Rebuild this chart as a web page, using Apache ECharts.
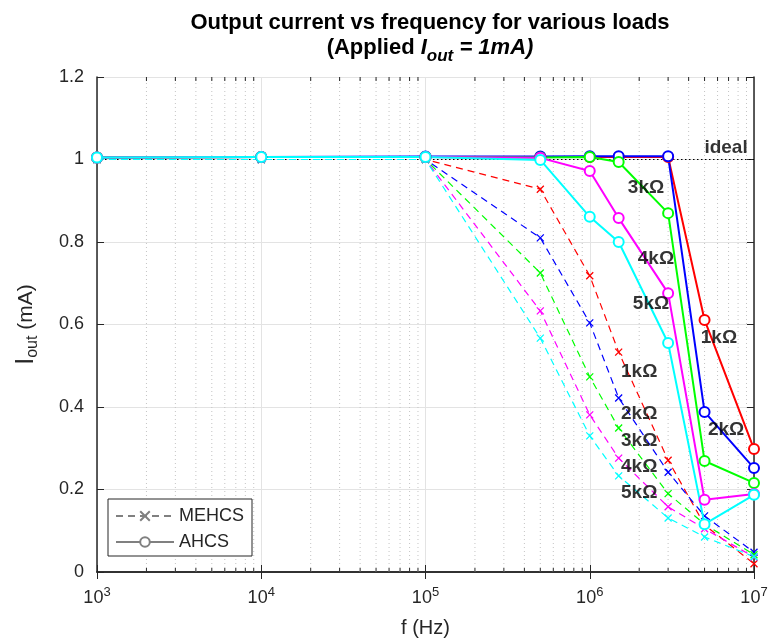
<!DOCTYPE html>
<html>
<head>
<meta charset="utf-8">
<script src="https://cdn.jsdelivr.net/npm/echarts@6/dist/echarts.min.js"></script>
<style>html,body{margin:0;padding:0;background:#fff;}#c{width:768px;height:641px;}</style>
</head>
<body>
<div id="c"></div>
<script>
// ---- data ----
const freq = [1e3, 1e4, 1e5, 5e5, 1e6, 1.5e6, 3e6, 5e6, 1e7];
const loads = ['1k\u03A9', '2k\u03A9', '3k\u03A9', '4k\u03A9', '5k\u03A9'];
const mehcs1k = [1.0, 1.0, 1.0, 0.928, 0.718, 0.533, 0.271, 0.114, 0.020];
const mehcs2k = [1.0, 1.0, 1.0, 0.810, 0.604, 0.422, 0.242, 0.136, 0.048];
const mehcs3k = [1.0, 1.0, 1.0, 0.725, 0.473, 0.349, 0.190, 0.116, 0.042];
const mehcs4k = [1.0, 1.0, 1.0, 0.633, 0.381, 0.276, 0.158, 0.105, 0.036];
const mehcs5k = [1.0, 1.0, 1.0, 0.567, 0.330, 0.233, 0.131, 0.085, 0.037];
const ahcs1k = [1.005, 1.006, 1.006, 1.006, 1.006, 1.006, 1.006, 0.611, 0.298];
const ahcs2k = [1.005, 1.006, 1.007, 1.007, 1.008, 1.008, 1.008, 0.388, 0.252];
const ahcs3k = [1.005, 1.006, 1.006, 1.005, 1.006, 0.994, 0.870, 0.269, 0.216];
const ahcs4k = [1.005, 1.006, 1.006, 1.004, 0.972, 0.858, 0.676, 0.175, 0.189];
const ahcs5k = [1.005, 1.006, 1.006, 0.999, 0.861, 0.800, 0.555, 0.116, 0.187];
const idealX = [1e3, 1e7];
const idealY = [1, 1];
const minorX = [];
[1e3, 1e4, 1e5, 1e6].forEach(d => { for (let k = 2; k <= 9; k++) minorX.push(k * d); });
// annotation labels [x, y, text]
const annotations = [
  [6.76e6, 1.028, 'ideal'],
  [2.2e6, 0.931, '3k\u03A9'],
  [2.53e6, 0.759, '4k\u03A9'],
  [2.36e6, 0.650, '5k\u03A9'],
  [6.12e6, 0.567, '1k\u03A9'],
  [6.76e6, 0.346, '2k\u03A9'],
  [2.0e6, 0.485, '1k\u03A9'],
  [2.0e6, 0.383, '2k\u03A9'],
  [2.0e6, 0.318, '3k\u03A9'],
  [2.0e6, 0.255, '4k\u03A9'],
  [2.0e6, 0.192, '5k\u03A9']
];
// ---- styles ----
const colors = ['#ff0000', '#0000ff', '#00ff00', '#ff00ff', '#00ffff'];
const crossPath = 'path://M0,0L10,10M10,0L0,10';
const FONT = 'Liberation Sans, Arial, sans-serif';
const AX = '#262626';

const mehcs = [mehcs1k, mehcs2k, mehcs3k, mehcs4k, mehcs5k];
const ahcs = [ahcs1k, ahcs2k, ahcs3k, ahcs4k, ahcs5k];
const zip = (xs, ys) => xs.map((x, i) => [x, ys[i]]);

const series = [];
series.push({
  type: 'custom', silent: true, z: 1,
  data: minorX.map(x => [x, 0]),
  encode: { x: 0, y: 1 },
  renderItem: (params, api) => {
    const x = api.value(0);
    const p0 = api.coord([x, 0]);
    const p1 = api.coord([x, 1.2]);
    return { type: 'group', children: [
      { type: 'line', shape: { x1: p0[0], y1: p0[1], x2: p1[0], y2: p1[1] }, style: { stroke: '#c4c4c4', lineWidth: 1, lineDash: [1, 3] } },
      { type: 'line', shape: { x1: p0[0], y1: p0[1], x2: p0[0], y2: p0[1] - 4 }, style: { stroke: AX, lineWidth: 1 } },
      { type: 'line', shape: { x1: p1[0], y1: p1[1], x2: p1[0], y2: p1[1] + 4 }, style: { stroke: AX, lineWidth: 1 } }
    ]};
  }
});
series.push({
  type: 'line', name: 'ideal', data: zip(idealX, idealY), symbol: 'none', silent: true, z: 2,
  lineStyle: { color: '#000', width: 1.2, type: [1.5, 2.5] }
});
mehcs.forEach((d, i) => series.push({
  type: 'line', name: 'MEHCS ' + loads[i], data: zip(freq, d), z: 3,
  symbol: crossPath, symbolSize: 7,
  lineStyle: { color: colors[i], width: 1.2, type: [7, 5] },
  itemStyle: { color: 'none', borderColor: colors[i], borderWidth: 1.3 }
}));
ahcs.forEach((d, i) => series.push({
  type: 'line', name: 'AHCS ' + loads[i], data: zip(freq, d), z: 4,
  symbol: 'emptyCircle', symbolSize: 10,
  lineStyle: { color: colors[i], width: 2 },
  itemStyle: { color: colors[i], borderColor: colors[i], borderWidth: 1.8 }
}));
series.push({
  type: 'line', name: 'MEHCS', data: [], symbol: crossPath, symbolSize: 7,
  lineStyle: { color: '#808080', width: 1.2, type: [7, 5] },
  itemStyle: { color: 'none', borderColor: '#808080', borderWidth: 1.2 }
});
series.push({
  type: 'line', name: 'AHCS', data: [], symbol: 'emptyCircle', symbolSize: 8,
  lineStyle: { color: '#808080', width: 1.8 },
  itemStyle: { color: '#808080', borderColor: '#808080', borderWidth: 1.5 }
});
series.push({
  type: 'scatter', name: 'labels', silent: true, z: 6,
  data: annotations.map(a => ({ value: [a[0], a[1]], name: a[2] })),
  symbolSize: 0,
  label: { show: true, position: 'inside', formatter: p => p.name, color: '#000', textBorderWidth: 0, fontSize: 19, fontWeight: 'bold', fontFamily: FONT }
});

const chart = echarts.init(document.getElementById('c'), null, { renderer: 'canvas' });
chart.setOption({
  animation: false,
  backgroundColor: '#fff',
  title: {
    text: 'Output current vs frequency for various loads\n{n|(Applied }{i|I}{s|out}{i| = 1mA)}',
    left: 425, top: 5, textAlign: 'center',
    textStyle: {
      fontFamily: FONT, fontSize: 22, fontWeight: 'bold', color: '#000', lineHeight: 25,
      rich: {
        n: { fontFamily: FONT, fontSize: 22, fontWeight: 'bold', color: '#000', lineHeight: 25 },
        i: { fontFamily: FONT, fontSize: 22, fontWeight: 'bold', fontStyle: 'italic', color: '#000', lineHeight: 25 },
        s: { fontFamily: FONT, fontSize: 17, fontWeight: 'bold', fontStyle: 'italic', color: '#000', padding: [18, 0, 0, 0], lineHeight: 25 }
      }
    }
  },
  legend: {
    data: ['MEHCS', 'AHCS'], orient: 'vertical', left: 108, top: 499,
    backgroundColor: '#fff', borderColor: AX, borderWidth: 1, padding: [8, 8, 5, 7],
    itemWidth: 58, itemHeight: 12, itemGap: 8,
    textStyle: { fontFamily: FONT, fontSize: 18, color: AX }
  },
  grid: { left: 97, right: 14, top: 77, bottom: 69, containLabel: false, outerBoundsMode: 'none' },
  xAxis: [{
    type: 'log', logBase: 10, min: 1e3, max: 1e7,
    name: 'f (Hz)', nameLocation: 'middle', nameGap: 46,
    nameTextStyle: { fontFamily: FONT, fontSize: 20, color: AX },
    axisLine: { show: true, lineStyle: { color: AX, width: 1.5 } },
    axisTick: { show: true, inside: true, length: 7, lineStyle: { color: AX, width: 1 } },
    minorTick: { show: false },
    splitLine: { show: true, lineStyle: { color: '#e3e3e3', width: 1 } },
    axisLabel: {
      margin: 14, color: AX, fontFamily: FONT, fontSize: 18,
      formatter: v => '10{s|' + Math.round(Math.log10(v)) + '}',
      rich: { s: { fontSize: 13, fontFamily: FONT, color: AX, padding: [0, 0, 12, 0] } }
    }
  }, {
    type: 'log', logBase: 10, min: 1e3, max: 1e7, position: 'top',
    axisLine: { show: true, lineStyle: { color: AX, width: 1.5 } },
    axisTick: { show: true, inside: true, length: 7, lineStyle: { color: AX, width: 1 } },
    axisLabel: { show: false }, splitLine: { show: false }
  }],
  yAxis: [{
    type: 'value', min: 0, max: 1.2, interval: 0.2,
    name: '{b|I}{s|out}{n| (mA)}', nameLocation: 'middle', nameGap: 56, nameRotate: 90,
    nameTextStyle: {
      rich: {
        b: { fontFamily: FONT, fontSize: 25, color: AX },
        s: { fontFamily: FONT, fontSize: 16, color: AX, padding: [13, 0, 0, 0] },
        n: { fontFamily: FONT, fontSize: 21, color: AX }
      }
    },
    axisLine: { show: true, lineStyle: { color: AX, width: 1.5 } },
    axisTick: { show: true, inside: true, length: 7, lineStyle: { color: AX, width: 1 } },
    splitLine: { show: true, lineStyle: { color: '#e3e3e3', width: 1 } },
    axisLabel: { margin: 13, color: AX, fontFamily: FONT, fontSize: 18 }
  }, {
    type: 'value', min: 0, max: 1.2, interval: 0.2, position: 'right',
    axisLine: { show: true, lineStyle: { color: AX, width: 1.5 } },
    axisTick: { show: true, inside: true, length: 7, lineStyle: { color: AX, width: 1 } },
    axisLabel: { show: false }, splitLine: { show: false }
  }],
  series: series
});
</script>
</body>
</html>
